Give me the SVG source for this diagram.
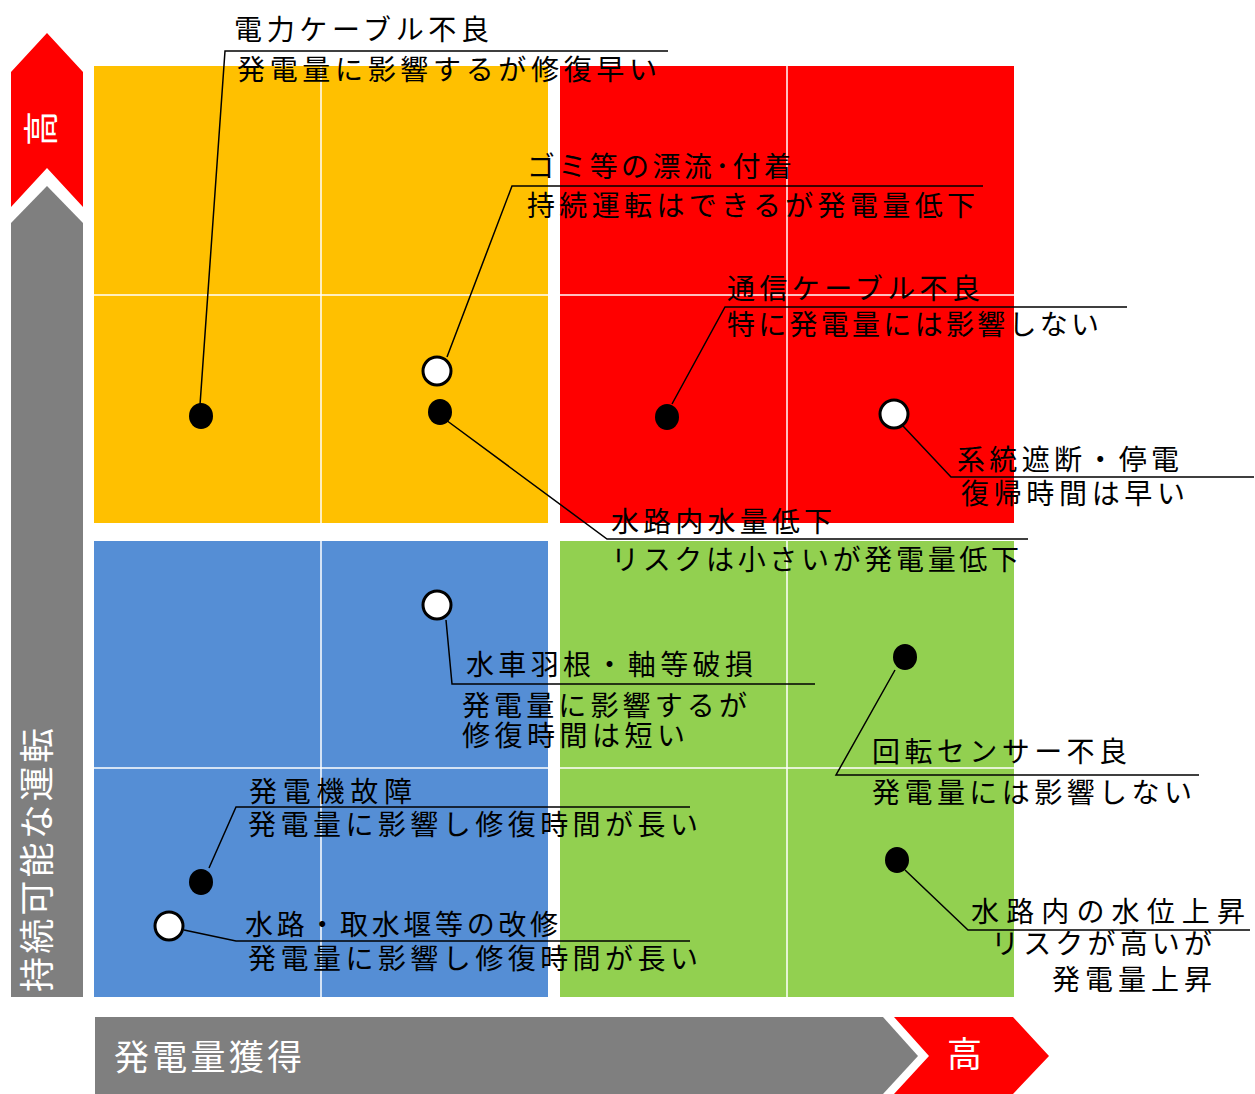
<svg xmlns="http://www.w3.org/2000/svg" width="1255" height="1094" viewBox="0 0 1255 1094">
<style>
.lbl{font-family:"Noto Sans CJK JP","Noto Sans",sans-serif;font-size:28px;fill:#000}
.big{font-family:"Noto Sans CJK JP","Noto Sans",sans-serif;font-size:35px;fill:#fff}
.grid{stroke:#fff;stroke-width:1.5}
.ln{stroke:#000;stroke-width:1.5;fill:none}
.dot{fill:#000}
.ring{fill:#fff;stroke:#000;stroke-width:3}
</style>
<rect width="1255" height="1094" fill="#fff"/>
<g id="quadrant-yellow"><rect x="94" y="66" width="454" height="457" fill="#FFC000"/><line class="grid" x1="321" y1="66" x2="321" y2="523"/><line class="grid" x1="94" y1="295" x2="548" y2="295"/></g>
<g id="quadrant-red"><rect x="560" y="66" width="454" height="457" fill="#FF0000"/><line class="grid" x1="787" y1="66" x2="787" y2="523"/><line class="grid" x1="560" y1="295" x2="1014" y2="295"/></g>
<g id="quadrant-blue"><rect x="94" y="541" width="454" height="456" fill="#558ED5"/><line class="grid" x1="321" y1="541" x2="321" y2="997"/><line class="grid" x1="94" y1="768" x2="548" y2="768"/></g>
<g id="quadrant-green"><rect x="560" y="541" width="454" height="456" fill="#92D050"/><line class="grid" x1="787" y1="541" x2="787" y2="997"/><line class="grid" x1="560" y1="768" x2="1014" y2="768"/></g>
<g id="axis-y"><polygon points="11,72 47,33 83,72 83,207 47,168 11,207" fill="#FF0000"/><polygon points="11,223 47,186 83,223 83,997 11,997" fill="#7F7F7F"/><text class="big" font-size="32" transform="translate(54,146) rotate(-90)">高</text><text class="big" transform="translate(50,992) rotate(-90)" textLength="264" lengthAdjust="spacing">持続可能な運転</text></g>
<g id="axis-x"><polygon points="95,1017 883,1017 918,1056 883,1094 95,1094" fill="#7F7F7F"/><polygon points="894,1017 1013,1017 1049,1056 1013,1094 894,1094 929,1056" fill="#FF0000"/><text class="big" x="114" y="1070" textLength="188" lengthAdjust="spacing">発電量獲得</text><text class="big" font-size="32" x="947" y="1067">高</text></g>
<g id="connectors">
<polyline class="ln" points="668,51 225,51 200,405"/>
<polyline class="ln" points="983,186 512,186 447,357"/>
<polyline class="ln" points="1127,307 725,307 672,404"/>
<polyline class="ln" points="903,426 951,477 1254,477"/>
<polyline class="ln" points="446,420 607,539 1028,539"/>
<polyline class="ln" points="446,620 452,684 815,684"/>
<polyline class="ln" points="895,670 836,775 1199,775"/>
<polyline class="ln" points="209,868 236,807 690,807"/>
<polyline class="ln" points="184,930 236,941 690,941"/>
<polyline class="ln" points="905,870 968,930 1250,930"/>
</g>
<g id="item-power-cable"><ellipse class="dot" cx="201" cy="416" rx="12" ry="13"/><text class="lbl" x="234" y="40" textLength="255" lengthAdjust="spacing">電力ケーブル不良</text><text class="lbl" x="237" y="80" textLength="420" lengthAdjust="spacing">発電量に影響するが修復早い</text></g>
<g id="item-debris"><circle class="ring" cx="437" cy="371" r="14"/><text class="lbl" x="527" y="177" textLength="265" lengthAdjust="spacing">ゴミ等の漂流･付着</text><text class="lbl" x="527" y="216" textLength="448" lengthAdjust="spacing">持続運転はできるが発電量低下</text></g>
<g id="item-comm-cable"><ellipse class="dot" cx="667" cy="417" rx="12" ry="13"/><text class="lbl" x="727" y="299" textLength="253" lengthAdjust="spacing">通信ケーブル不良</text><text class="lbl" x="727" y="335" textLength="372" lengthAdjust="spacing">特に発電量には影響しない</text></g>
<g id="item-grid-outage"><circle class="ring" cx="894" cy="414" r="14"/><text class="lbl" x="957" y="470" textLength="222" lengthAdjust="spacing">系統遮断・停電</text><text class="lbl" x="961" y="504" textLength="224" lengthAdjust="spacing">復帰時間は早い</text></g>
<g id="item-water-low"><ellipse class="dot" cx="440" cy="412" rx="12" ry="13"/><text class="lbl" x="611" y="532" textLength="221" lengthAdjust="spacing">水路内水量低下</text><text class="lbl" x="611" y="570" textLength="408" lengthAdjust="spacing">リスクは小さいが発電量低下</text></g>
<g id="item-wheel"><circle class="ring" cx="437" cy="605" r="14"/><text class="lbl" x="466" y="675" textLength="287" lengthAdjust="spacing">水車羽根・軸等破損</text><text class="lbl" x="462" y="716" textLength="285" lengthAdjust="spacing">発電量に影響するが</text><text class="lbl" x="462" y="746" textLength="223" lengthAdjust="spacing">修復時間は短い</text></g>
<g id="item-sensor"><ellipse class="dot" cx="905" cy="657" rx="12" ry="13"/><text class="lbl" x="872" y="762" textLength="255" lengthAdjust="spacing">回転センサー不良</text><text class="lbl" x="872" y="803" textLength="320" lengthAdjust="spacing">発電量には影響しない</text></g>
<g id="item-generator"><ellipse class="dot" cx="201" cy="882" rx="12" ry="13"/><text class="lbl" x="249" y="802" textLength="163" lengthAdjust="spacing">発電機故障</text><text class="lbl" x="248" y="835" textLength="450" lengthAdjust="spacing">発電量に影響し修復時間が長い</text></g>
<g id="item-waterway"><circle class="ring" cx="169" cy="926" r="14"/><text class="lbl" x="245" y="935" textLength="313" lengthAdjust="spacing">水路・取水堰等の改修</text><text class="lbl" x="248" y="969" textLength="450" lengthAdjust="spacing">発電量に影響し修復時間が長い</text></g>
<g id="item-water-high"><ellipse class="dot" cx="897" cy="860" rx="12" ry="13"/><text class="lbl" x="971" y="922" textLength="274" lengthAdjust="spacing">水路内の水位上昇</text><text class="lbl" x="991" y="954" textLength="221" lengthAdjust="spacing">リスクが高いが</text><text class="lbl" x="1052" y="990" textLength="160" lengthAdjust="spacing">発電量上昇</text></g>
</svg>
